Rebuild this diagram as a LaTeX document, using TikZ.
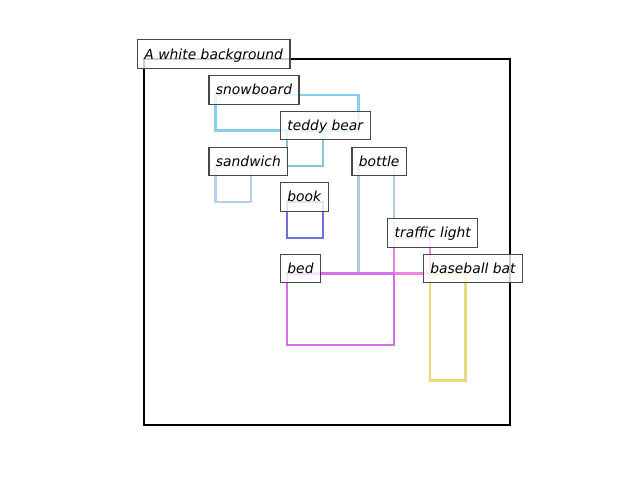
\documentclass[tikz,border=0pt]{standalone}
\usepackage{fontspec}
\setmainfont{DejaVu Sans}
\begin{document}
\begin{tikzpicture}[x=0.75pt,y=-0.75pt,
  tag/.style={draw=black!72, line width=0.8pt, fill=white, fill opacity=0.8,
    text opacity=1, anchor=base west, xshift=-5.25pt,
    inner xsep=5.2pt, inner ysep=4.6pt,
    text height=9.7pt, text depth=2.5pt,
    font=\fontsize{10.4}{12.5}\selectfont\itshape},
  boxline/.style={line width=1.8pt},
  frameline/.style={line width=1.6pt, draw=black}]
\useasboundingbox (0,0) rectangle (640,480);

\definecolor{cSnow}{RGB}{135,206,235}
\definecolor{cTeddy}{RGB}{140,195,215}
\definecolor{cSandwich}{RGB}{180,210,238}
\definecolor{cBottle}{RGB}{172,206,220}
\definecolor{cBook}{RGB}{110,112,222}
\definecolor{cTraffic}{RGB}{240,132,222}
\definecolor{cBed}{RGB}{212,112,236}
\definecolor{cBat}{RGB}{234,218,122}

% image plane: 512 x 512 units
\begin{scope}[shift={(144,59)}, x=0.53613pt, y=-0.53613pt]
  \draw[frameline] (0,0) rectangle (512,512);
  \draw[boxline, cSnow]     (100,50)  rectangle (300,100);
  \draw[boxline, cTeddy]    (200,100) rectangle (250,150);
  \draw[boxline, cSandwich] (100,150) rectangle (150,200);
  \draw[boxline, cBottle]   (300,150) rectangle (350,300);
  \draw[boxline, cBook]     (200,200) rectangle (250,250);
  \draw[boxline, cTraffic]  (350,250) rectangle (400,300);
  \draw[boxline, cBed]      (200,300) rectangle (350,400);
  \draw[boxline, cBat]      (400,300) rectangle (450,450);

  \node[tag] (bg)       at (0,0)     {A white background};
  \node[tag] (snow)     at (100,50)  {snowboard};
  \node[tag] (teddy)    at (200,100) {teddy bear};
  \node[tag] (sandwich) at (100,150) {sandwich};
  \node[tag] (bottle)   at (300,150) {bottle};
  \node[tag] (book)     at (200,200) {book};
  \node[tag] (traffic)  at (350,250) {traffic light};
  \node[tag] (bed)      at (200,300) {bed};
  \node[tag] (bat)      at (400,300) {baseball bat};
\end{scope}
\end{tikzpicture}
\end{document}
